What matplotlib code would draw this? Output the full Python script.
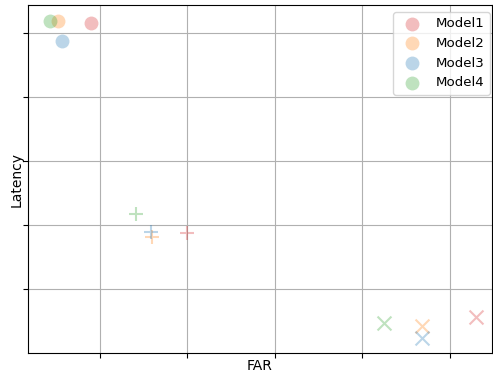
import matplotlib.pyplot as plt

models = ["Model1", "Model2", "Model3", "Model4"]
colors = ["tab:red", "tab:orange", "tab:blue", "tab:green"]

# three operating points per model: circle, plus, cross
far_circle = [0.897, 0.52, 0.566, 0.429]
lat_circle = [5.156, 5.19, 4.875, 5.19]
far_plus = [2.0, 1.594, 1.583, 1.411]
lat_plus = [1.875, 1.81, 1.89, 2.17]
far_cross = [5.297, 4.68, 4.68, 4.246]
lat_cross = [0.5625, 0.42, 0.234, 0.469]

fig = plt.figure(figsize=(4.93, 3.72), dpi=100)
ax = fig.add_axes([0.0568, 0.051, 0.941, 0.9356])

for i in range(len(models)):
    ax.scatter(far_circle[i], lat_circle[i], s=100, color=colors[i], alpha=0.3,
               linewidths=0, label=models[i])
    ax.scatter(far_plus[i], lat_plus[i], s=100, color=colors[i], alpha=0.3, marker="+")
    ax.scatter(far_cross[i], lat_cross[i], s=100, color=colors[i], alpha=0.3, marker="x")

ax.set_xlim(0.177, 5.48)
ax.set_ylim(0, 5.4375)
ax.set_xticks([1, 2, 3, 4, 5])
ax.set_yticks([1, 2, 3, 4, 5])
ax.set_xticklabels([])
ax.set_yticklabels([])
ax.grid(True)
ax.set_axisbelow(True)
ax.set_xlabel("FAR", labelpad=-3)
ax.set_ylabel("Latency", labelpad=-4)
ax.legend(loc="upper right", fontsize=9.6, borderaxespad=0,
          bbox_to_anchor=(0.9957, 0.98))

fig.savefig("out.png")
